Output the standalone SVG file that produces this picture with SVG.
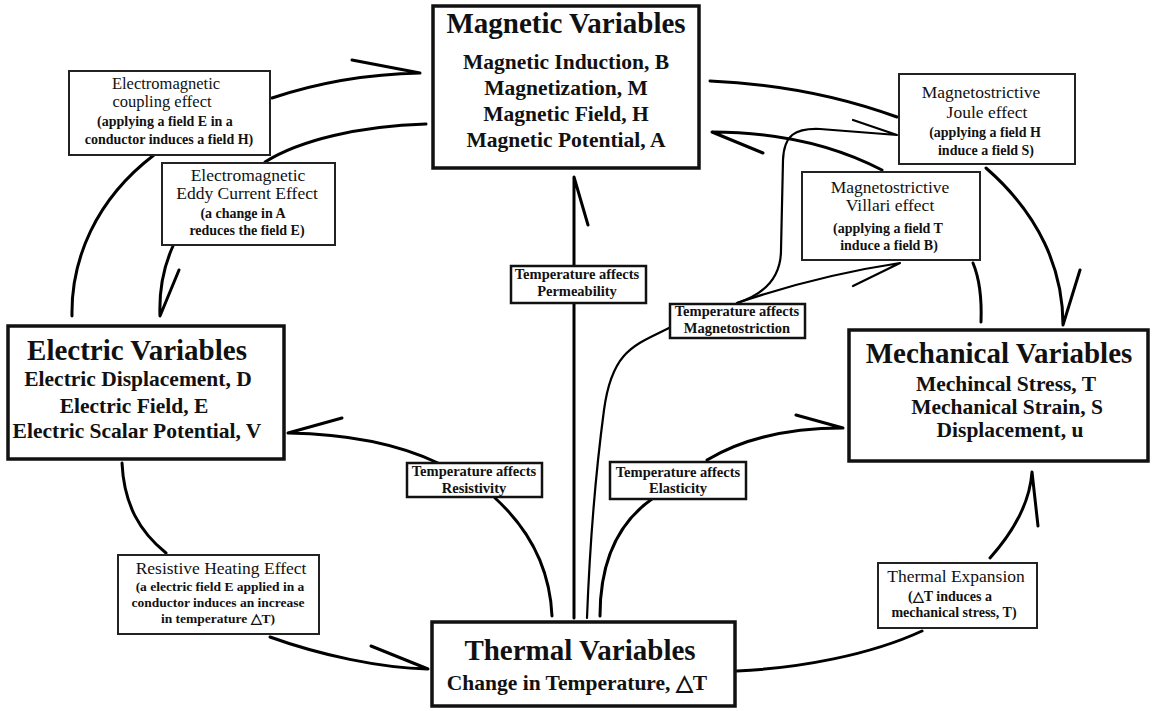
<svg xmlns="http://www.w3.org/2000/svg" width="1153" height="711" viewBox="0 0 1153 711">
<style>
.c{fill:none;stroke:#000;stroke-width:3;stroke-linecap:round;stroke-linejoin:round}
.cs{fill:none;stroke:#000;stroke-width:2.2;stroke-linecap:round;stroke-linejoin:round}
.big{fill:#fff;stroke:#111;stroke-width:3.5}
.lbl{fill:#fff;stroke:#222;stroke-width:2}
.tl{fill:#fff;stroke:#111;stroke-width:2.5}
text{font-family:"Liberation Serif","Times New Roman",serif;text-anchor:middle;fill:#111}
.h{font-size:29px;font-weight:bold}
.s{font-size:21.5px;font-weight:bold}
.lt{font-size:17.5px}
.lt2{font-size:16.5px}
.lp{font-size:14px;font-weight:bold}
.lr{font-size:13.5px;font-weight:bold}
.ta{font-size:14.5px;font-weight:bold}
</style>
<rect width="1153" height="711" fill="#fff"/>
<g id="connectors">
<path class="c" d="M72,316 C71,260 95,200 154,155"/>
<path class="c" d="M272,98 C320,82 370,74 420,73 L352,60"/>
<path class="c" d="M426,124 C360,126 300,140 265,162"/>
<path class="c" d="M173,246 C163,268 159,290 160,316 L179,270"/>
<path class="c" d="M710,81 C780,84 845,98 897,117"/>
<path class="c" d="M986,168 C1040,215 1063,270 1063,325 L1080,270"/>
<path class="c" d="M882,170 C830,143 770,132 712,132 L763,153"/>
<path class="c" d="M981,322 C982,295 978,275 973,263"/>
<path class="cs" d="M587,618 C590,540 596,470 604,410 S635,345 669,328"/>
<path class="cs" d="M737,303 C762,295 781,280 781,250 L783,160 C784,135 795,128 820,129 L897,135 L853,120"/>
<path class="cs" d="M737,303 C790,285 840,272 900,263 L853,286"/>
<path class="c" d="M574,618 L574,303"/>
<path class="c" d="M574,266 L574,177 L588,225"/>
<path class="c" d="M552,616 C550,570 530,530 495,498"/>
<path class="c" d="M438,463 C400,445 350,434 288,433 L342,418"/>
<path class="c" d="M600,616 C600,565 615,525 652,499"/>
<path class="c" d="M707,460 C745,437 790,428 843,428 L796,415"/>
<path class="c" d="M122,463 C124,505 140,532 166,553"/>
<path class="c" d="M270,637 C320,655 380,668 428,669 L371,646"/>
<path class="c" d="M737,671 C800,668 870,655 922,631"/>
<path class="c" d="M990,558 C1015,530 1030,500 1032,472 L1038,526"/>
</g>
<g id="magnetic">
<rect class="big" x="433" y="6" width="266" height="162"/>
<text class="h" x="566" y="33">Magnetic Variables</text>
<text class="s" x="566" y="69">Magnetic Induction, B</text>
<text class="s" x="566" y="95">Magnetization, M</text>
<text class="s" x="566" y="121">Magnetic Field, H</text>
<text class="s" x="566" y="147">Magnetic Potential, A</text>
</g>
<g id="electric">
<rect class="big" x="8" y="326" width="276" height="133"/>
<text class="h" x="137" y="360">Electric Variables</text>
<text class="s" x="138" y="386">Electric Displacement, D</text>
<text class="s" x="134" y="413">Electric Field, E</text>
<text class="s" x="137" y="438">Electric Scalar Potential, V</text>
</g>
<g id="mechanical">
<rect class="big" x="849" y="330" width="299" height="131"/>
<text class="h" x="999" y="363">Mechanical Variables</text>
<text class="s" x="1006" y="391">Mechincal Stress, T</text>
<text class="s" x="1007" y="414">Mechanical Strain, S</text>
<text class="s" x="1010" y="437">Displacement, u</text>
</g>
<g id="thermal">
<rect class="big" x="432" y="622" width="303" height="84"/>
<text class="h" x="580" y="660">Thermal Variables</text>
<text class="s" x="577" y="690">Change in Temperature, △T</text>
</g>
<g id="coupling">
<rect class="lbl" x="69" y="71" width="201" height="84"/>
<text class="lt2" x="166" y="88.5">Electromagnetic</text>
<text class="lt2" x="162" y="107">coupling effect</text>
<text class="lp" x="165" y="126">(applying a field E in a</text>
<text class="lp" x="169" y="144">conductor induces a field H)</text>
</g>
<g id="eddy">
<rect class="lbl" x="162" y="163" width="173" height="82"/>
<text class="lt" x="248" y="181">Electromagnetic</text>
<text class="lt" x="247" y="199">Eddy Current Effect</text>
<text class="lp" x="243" y="218">(a change in A</text>
<text class="lp" x="247" y="235">reduces the field E)</text>
</g>
<g id="joule">
<rect class="lbl" x="899" y="74" width="176" height="90"/>
<text class="lt" x="981" y="98">Magnetostrictive</text>
<text class="lt" x="987" y="118">Joule effect</text>
<text class="lp" x="985" y="137">(applying a field H</text>
<text class="lp" x="986" y="155">induce a field S)</text>
</g>
<g id="villari">
<rect class="lbl" x="802" y="172" width="178" height="88"/>
<text class="lt" x="890" y="193">Magnetostrictive</text>
<text class="lt" x="890" y="211">Villari effect</text>
<text class="lp" x="888" y="233">(applying a field T</text>
<text class="lp" x="889" y="250">induce a field B)</text>
</g>
<g id="permeability">
<rect class="tl" x="511" y="266" width="135" height="37"/>
<text class="ta" x="577" y="279">Temperature affects</text>
<text class="ta" x="577" y="296">Permeability</text>
</g>
<g id="magnetostriction">
<rect class="tl" x="670" y="304" width="135" height="34"/>
<text class="ta" x="737" y="316">Temperature affects</text>
<text class="ta" x="737" y="333">Magnetostriction</text>
</g>
<g id="resistivity">
<rect class="tl" x="407" y="463" width="135" height="34"/>
<text class="ta" x="474" y="476">Temperature affects</text>
<text class="ta" x="474" y="493">Resistivity</text>
</g>
<g id="elasticity">
<rect class="tl" x="610" y="462" width="136" height="37"/>
<text class="ta" x="678" y="477">Temperature affects</text>
<text class="ta" x="678" y="493">Elasticity</text>
</g>
<g id="resistive">
<rect class="lbl" x="118" y="555" width="201" height="79"/>
<text class="lt" x="221" y="574">Resistive Heating Effect</text>
<text class="lr" x="220" y="591">(a electric field E applied in a</text>
<text class="lr" x="218" y="607">conductor induces an increase</text>
<text class="lr" x="218" y="623">in temperature △T)</text>
</g>
<g id="expansion">
<rect class="lbl" x="878" y="563" width="159" height="65"/>
<text class="lt" x="956" y="582">Thermal Expansion</text>
<text class="lp" x="950" y="601">(△T induces a</text>
<text class="lp" x="954" y="617">mechanical stress, T)</text>
</g>
</svg>
